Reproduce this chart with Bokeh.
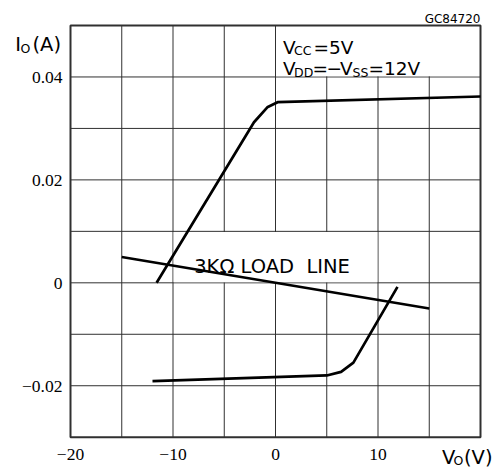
from bokeh.plotting import figure
from bokeh.models import Range1d, LabelSet, Label, ColumnDataSource
from bokeh.embed import file_html
from bokeh.resources import INLINE

# ---- data ----
upper_v = [-11.6, -2.1, -0.8, 0.2, 20.0]
upper_i = [0.0, 0.0312, 0.0341, 0.0351, 0.0362]

lower_v = [-12.0, 5.0, 6.4, 7.6, 11.9]
lower_i = [-0.0191, -0.0180, -0.0173, -0.0155, -0.0008]

load_v = [-15.0, 15.0]
load_i = [0.005, -0.005]

x_tick_values = [-20, -10, 0, 10]
x_tick_labels = ["\u221220", "\u221210", "0", "10"]
y_tick_values = [-0.02, 0.0, 0.02, 0.04]
y_tick_labels = ["\u22120.02", "0", "0.02", "0.04"]
x_grid_values = [-15, -10, -5, 0, 5, 10, 15]
y_grid_values = [-0.02, -0.01, 0.0, 0.01, 0.02, 0.03, 0.04]

X_MIN, X_MAX = -20.0, 20.0
Y_MIN, Y_MAX = -0.03, 0.05

# ---- layout (pixels) ----
W, H = 497, 467
LEFT, RIGHT, TOP, BOTTOM = 70, 17, 25, 30.3
sx = (W - LEFT - RIGHT) / (X_MAX - X_MIN)      # px per volt
sy = (H - TOP - BOTTOM) / (Y_MAX - Y_MIN)      # px per amp


def dx(px):
    return X_MIN + (px - LEFT) / sx


def dy(py):
    return Y_MAX - (py - TOP) / sy


FONT = "DejaVu Sans"
GRID = "#303030"

p = figure(width=W, height=H, output_backend="svg", toolbar_location=None,
           x_range=Range1d(dx(0), dx(W)), y_range=Range1d(dy(H), dy(0)),
           x_axis_location=None, y_axis_location=None, min_border=0,
           background_fill_color="white", border_fill_color="white",
           outline_line_color=None)
p.grid.visible = False

# grid
p.segment(x0=x_grid_values, x1=x_grid_values, y0=[Y_MIN] * len(x_grid_values),
          y1=[Y_MAX] * len(x_grid_values), line_color=GRID, line_width=1)
p.segment(x0=[X_MIN] * len(y_grid_values), x1=[X_MAX] * len(y_grid_values),
          y0=y_grid_values, y1=y_grid_values, line_color=GRID, line_width=1)

# white backgrounds behind the two text blocks (hide the grid there)
ex, ey = 0.6 / sx, 0.6 / sy
p.quad(left=[0 + ex, -10 + ex], right=[X_MAX - ex, 10 - ex],
       bottom=[0.04 + ey, 0 + ey], top=[Y_MAX - ey, 0.01 - ey],
       fill_color="white", line_color=None)

# frame
p.quad(left=[X_MIN], right=[X_MAX], bottom=[Y_MIN], top=[Y_MAX],
       fill_color=None, line_color=GRID, line_width=2)

# curves
p.line(upper_v, upper_i, line_color="black", line_width=2.7)
p.line(lower_v, lower_i, line_color="black", line_width=2.7)
p.line(load_v, load_i, line_color="black", line_width=2.5)

TICK = "17.5px"
# tick labels
xsrc = ColumnDataSource(dict(x=x_tick_values, y=[dy(459.5)] * len(x_tick_values), t=x_tick_labels))
p.add_layout(LabelSet(x="x", y="y", text="t", source=xsrc, text_align="center",
                      text_baseline="alphabetic", text_font=FONT, text_font_size=TICK,
                      text_color="black"))
half_cap = 6.3 / sy
ysrc = ColumnDataSource(dict(x=[dx(62)] * len(y_tick_values),
                             y=[v - half_cap for v in y_tick_values], t=y_tick_labels))
p.add_layout(LabelSet(x="x", y="y", text="t", source=ysrc, text_align="right",
                      text_baseline="alphabetic", text_font=FONT, text_font_size=TICK,
                      text_color="black"))


def lab(px, py, text, size="18.5px", align="left"):
    p.add_layout(Label(x=dx(px), y=dy(py), text=text, text_font=FONT, text_font_size=size,
                       text_align=align, text_baseline="alphabetic", text_color="black"))


SUB = "12.5px"
# axis titles
lab(14.7, 43.5, "I", "19.5px")
lab(20.0, 47.5, "O", SUB)
lab(32.0, 43.5, "(A)", "19.5px")
lab(441.5, 456.5, "V", "19.5px")
lab(453.0, 460.0, "O", SUB)
lab(463.5, 456.5, "(V)", "19.5px")

# figure id
lab(480, 18.3, "GC84720", "12px", "right")

# conditions
lab(282.5, 46.5, "V")
lab(293.5, 50.0, "CC", SUB)
lab(313.0, 46.5, "=5V")
lab(282.5, 68.0, "V")
lab(293.5, 71.5, "DD", SUB)
lab(312.0, 68.0, "=")
lab(326.0, 68.0, "\u2212")
lab(339.5, 68.0, "V")
lab(352.0, 71.5, "SS", SUB)
lab(368.0, 68.0, "=12V")

# load line label
lab(193.7, 265.7, "3K\u03a9 LOAD \u00a0LINE", "19.5px")

open("out.html", "w").write(file_html(p, INLINE))
